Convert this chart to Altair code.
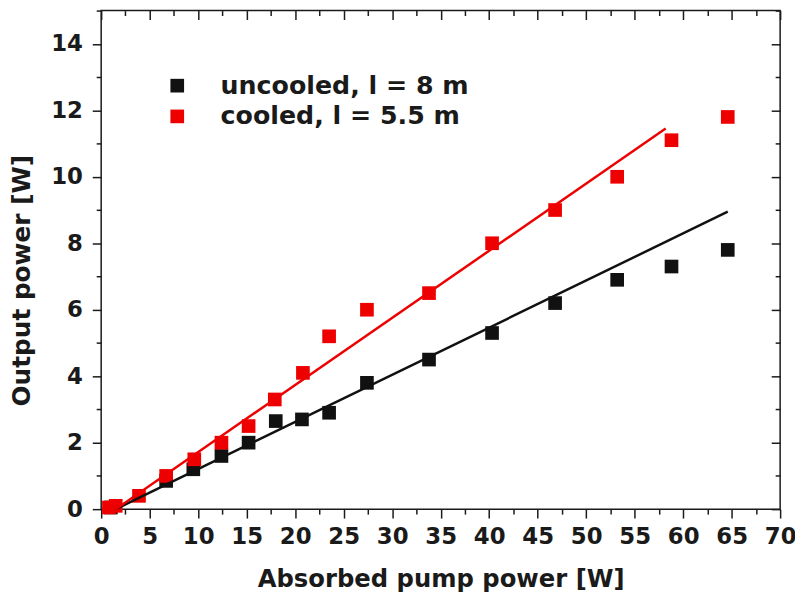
import altair as alt
import pandas as pd

# ---- data ----
unc_x = [1.0, 6.7, 9.5, 12.4, 15.2, 18.0, 20.7, 23.5, 27.4, 33.8, 40.3, 46.8, 53.2, 58.8, 64.6]
unc_y = [0.05, 0.85, 1.2, 1.6, 2.0, 2.65, 2.7, 2.9, 3.8, 4.5, 5.3, 6.2, 6.9, 7.3, 7.8]
cool_x = [0.8, 1.5, 3.9, 6.7, 9.6, 12.4, 15.2, 17.9, 20.8, 23.5, 27.4, 33.8, 40.3, 46.8, 53.2, 58.8, 64.6]
cool_y = [0.05, 0.1, 0.4, 1.0, 1.5, 2.0, 2.5, 3.3, 4.1, 5.2, 6.0, 6.5, 8.0, 9.0, 10.0, 11.1, 11.8]
unc_fit_x = [1.5, 64.6]
unc_fit_y = [0.0, 8.95]
cool_fit_x = [1.5, 58.2]
cool_fit_y = [0.0, 11.45]

lab_unc = "uncooled, l = 8 m"
lab_cool = "cooled, l  = 5.5 m"
series = [lab_unc, lab_cool]
colors = ["#111111", "#ee0000"]

x_major = [0, 5, 10, 15, 20, 25, 30, 35, 40, 45, 50, 55, 60, 65, 70]
x_minor = [2.5, 7.5, 12.5, 17.5, 22.5, 27.5, 32.5, 37.5, 42.5, 47.5, 52.5, 57.5, 62.5, 67.5]
y_major = [0, 2, 4, 6, 8, 10, 12, 14]
y_minor = [1, 3, 5, 7, 9, 11, 13, 15]

pts = pd.DataFrame({
    "x": unc_x + cool_x,
    "y": unc_y + cool_y,
    "s": [lab_unc] * len(unc_x) + [lab_cool] * len(cool_x),
})
fits = pd.DataFrame({
    "x": unc_fit_x + cool_fit_x,
    "y": unc_fit_y + cool_fit_y,
    "s": [lab_unc] * 2 + [lab_cool] * 2,
})

FONT = "DejaVu Sans"
TXT = "#1a1a1a"
xs = alt.Scale(domain=[0, 70], nice=False, zero=False)
ys = alt.Scale(domain=[0, 15], nice=False, zero=False)
cs = alt.Scale(domain=series, range=colors)

common = dict(domain=False, grid=False, tickColor=TXT, tickWidth=1.5)

legend = alt.Legend(
    title=None, orient="none", legendX=64, legendY=63, padding=0,
    symbolType="square", symbolSize=190, symbolStrokeWidth=0, symbolOpacity=1,
    labelFont=FONT, labelFontSize=25.5, labelFontWeight="bold", labelColor=TXT,
    labelOffset=31, rowPadding=4, labelLimit=400)

# points with main (labelled) axes and legend
points = alt.Chart(pts).mark_square(size=190, opacity=1).encode(
    x=alt.X("x:Q", scale=xs, axis=alt.Axis(
        orient="bottom", values=x_major, tickSize=9, labelPadding=8,
        labelFlush=False, labelOverlap=False,
        labelFont=FONT, labelFontSize=23, labelFontWeight="bold", labelColor=TXT,
        title="Absorbed pump power [W]", titleFont=FONT, titleFontSize=24.5,
        titleFontWeight="bold", titleColor=TXT, titlePadding=19, format="d", **common)),
    y=alt.Y("y:Q", scale=ys, axis=alt.Axis(
        orient="left", values=y_major, tickSize=9, labelPadding=10,
        labelFlush=False, labelOverlap=False,
        labelFont=FONT, labelFontSize=23, labelFontWeight="bold", labelColor=TXT,
        title="Output power [W]", titleFont=FONT, titleFontSize=25,
        titleFontWeight="bold", titleColor=TXT, titlePadding=16, titleY=272, format="d", **common)),
    color=alt.Color("s:N", scale=cs, legend=legend),
)

lines = alt.Chart(fits).mark_line(strokeWidth=2.5).encode(
    x=alt.X("x:Q", scale=xs, axis=None),
    y=alt.Y("y:Q", scale=ys, axis=None),
    color=alt.Color("s:N", scale=cs, legend=legend),
    detail="s:N",
)

def tick_layer(xorient, yorient, xvals, yvals, size, offset):
    return alt.Chart(pts).mark_point(opacity=0).encode(
        x=alt.X("x:Q", scale=xs, axis=alt.Axis(
            orient=xorient, values=xvals, tickSize=size, offset=offset,
            labels=False, title=None, **common)),
        y=alt.Y("y:Q", scale=ys, axis=alt.Axis(
            orient=yorient, values=yvals, tickSize=size, offset=offset,
            labels=False, title=None, **common)),
    )

minor_bl = tick_layer("bottom", "left", x_minor, y_minor, 5, 0)
major_tr = tick_layer("top", "right", x_major, y_major, 9, -9)
minor_tr = tick_layer("top", "right", x_minor, y_minor, 5, -5)

chart = alt.layer(points, lines, minor_bl, major_tr, minor_tr).resolve_axis(
    x="independent", y="independent"
).properties(
    width=685, height=503,
    autosize=alt.AutoSizeParams(type="none"),
    padding={"left": 94, "top": 0, "right": 15, "bottom": 84},
).configure_view(stroke=TXT, strokeWidth=1.5)

chart.save("out.html", embed_options={"renderer": "svg", "actions": False})
